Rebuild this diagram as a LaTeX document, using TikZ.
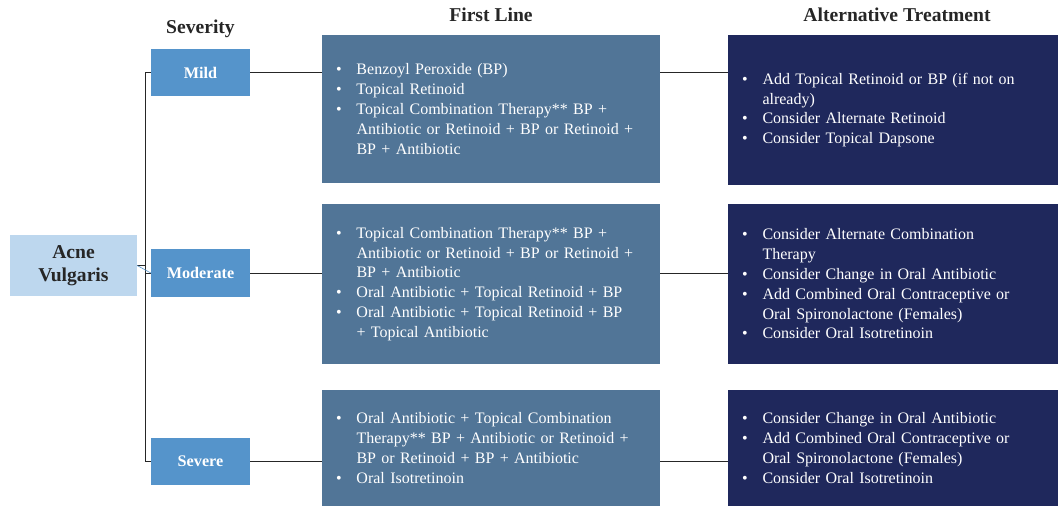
\documentclass[tikz,border=0pt]{standalone}
\usepackage{fontspec}
\setmainfont{Liberation Serif}
\definecolor{acnefill}{HTML}{BDD7EE}
\definecolor{sevfill}{HTML}{5594CB}
\definecolor{flfill}{HTML}{517597}
\definecolor{altfill}{HTML}{1F285C}
\definecolor{linec}{HTML}{262626}
\newcommand{\bl}[1]{\makebox[20.5pt][l]{\textbullet}#1}
\newcommand{\cl}[1]{\hspace*{20.5pt}#1}
\begin{document}
\begin{tikzpicture}[x=1pt,y=-1pt,
  sev/.style={fill=sevfill,text=white,font=\fontsize{16.2}{18}\selectfont\bfseries,minimum width=99pt,minimum height=47pt,inner sep=0pt},
  txtbox/.style={text=white,font=\fontsize{16}{19.8}\selectfont,align=left,inner xsep=14pt,inner ysep=0pt},
  flbox/.style={txtbox,fill=flfill,minimum width=338pt,text width=310pt},
  altbox/.style={txtbox,fill=altfill,minimum width=330pt,text width=302pt},
  head/.style={font=\fontsize{19.6}{22}\selectfont\bfseries,text=black!85},
  conn/.style={draw=linec,line width=1pt}]
\useasboundingbox (0,0) rectangle (1058,507);
\fill[white] (0,0) rectangle (1058,507);
% headings
\node[head] (hsev) at (200.5,29) {Severity};
\node[head] (hfl) at (491,15) {First Line};
\node[head] (halt) at (897,15) {Alternative Treatment};
% root
\node[fill=acnefill,minimum width=127pt,minimum height=61pt,inner sep=0pt,align=center,
  font=\fontsize{19.6}{23}\selectfont\bfseries,text=black!85] (acne) at (73.5,265.5) {Acne\\Vulgaris};
% severity
\node[sev] (mild) at (200.5,72.5) {Mild};
\node[sev,minimum height=48pt] (mod) at (200.5,273) {Moderate};
\node[sev] (sev) at (200.5,461.5) {Severe};
% first line
\node[flbox,minimum height=148pt] (fl1) at (491,109) {%
\bl{Benzoyl Peroxide (BP)}\\
\bl{Topical Retinoid}\\
\bl{Topical Combination Therapy** BP +}\\
\cl{Antibiotic or Retinoid + BP or Retinoid +}\\
\cl{BP + Antibiotic}};
\node[flbox,minimum height=160pt] (fl2) at (491,284) {%
\bl{Topical Combination Therapy** BP +}\\
\cl{Antibiotic or Retinoid + BP or Retinoid +}\\
\cl{BP + Antibiotic}\\
\bl{Oral Antibiotic + Topical Retinoid + BP}\\
\bl{Oral Antibiotic + Topical Retinoid + BP}\\
\cl{+ Topical Antibiotic}};
\node[flbox,minimum height=116pt] (fl3) at (491,448) {%
\bl{Oral Antibiotic + Topical Combination}\\
\cl{Therapy** BP + Antibiotic or Retinoid +}\\
\cl{BP or Retinoid + BP + Antibiotic}\\
\bl{Oral Isotretinoin}};
% alternative
\node[altbox,minimum height=150pt] (alt1) at (893,110) {%
\bl{Add Topical Retinoid or BP (if not on}\\
\cl{already)}\\
\bl{Consider Alternate Retinoid}\\
\bl{Consider Topical Dapsone}};
\node[altbox,minimum height=160pt] (alt2) at (893,284) {%
\bl{Consider Alternate Combination}\\
\cl{Therapy}\\
\bl{Consider Change in Oral Antibiotic}\\
\bl{Add Combined Oral Contraceptive or}\\
\cl{Oral Spironolactone (Females)}\\
\bl{Consider Oral Isotretinoin}};
\node[altbox,minimum height=116pt] (alt3) at (893,448) {%
\bl{Consider Change in Oral Antibiotic}\\
\bl{Add Combined Oral Contraceptive or}\\
\cl{Oral Spironolactone (Females)}\\
\bl{Consider Oral Isotretinoin}};
% connectors
\coordinate (trunk) at (145,265.5);
\draw[conn] (mild.west) -- (mild.west -| trunk) -- (sev.west -| trunk) -- (sev.west);
\draw[conn] (mod.west) -- (mod.west -| trunk);
\draw[conn] (acne.east) -- (trunk);
\draw[draw=sevfill,line width=0.6pt] (acne.east) -- (mod.west);
\draw[conn] (mild.east) -- (mild.east -| fl1.west);
\draw[conn] (fl1.east |- mild.east) -- (alt1.west |- mild.east);
\draw[conn] (mod.east) -- (mod.east -| fl2.west);
\draw[conn] (fl2.east |- mod.east) -- (alt2.west |- mod.east);
\draw[conn] (sev.east) -- (sev.east -| fl3.west);
\draw[conn] (fl3.east |- sev.east) -- (alt3.west |- sev.east);
\end{tikzpicture}
\end{document}
